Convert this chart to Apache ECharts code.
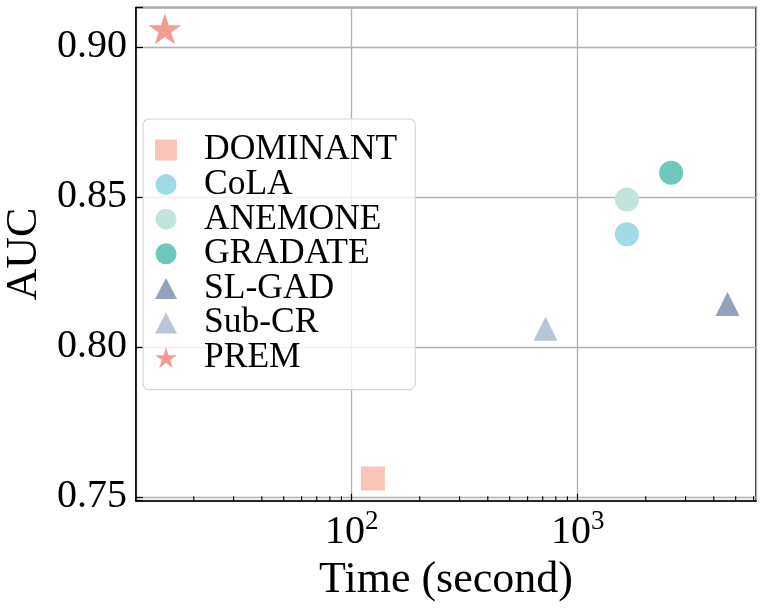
<!DOCTYPE html>
<html>
<head>
<meta charset="utf-8">
<script src="https://cdn.jsdelivr.net/npm/echarts@6/dist/echarts.min.js"></script>
<style>
  html, body { margin: 0; padding: 0; background: #fff; }
  #main { width: 764px; height: 613px; }
</style>
</head>
<body>
<div id="main"></div>
<script>
// values
var methods = ['DOMINANT', 'CoLA', 'ANEMONE', 'GRADATE', 'SL-GAD', 'Sub-CR', 'PREM'];
var timeSec = [124, 1650, 1650, 2590, 4600, 720, 14.9];
var aucVals = [0.7561, 0.8375, 0.8491, 0.8580, 0.8143, 0.8060, 0.9060];
var yTicks = [0.75, 0.80, 0.85, 0.90];
var xMinorTicks = [20, 30, 40, 50, 60, 70, 80, 90, 200, 300, 400, 500, 600, 700, 800, 900, 2000, 3000, 4000, 5000, 6000];

// marker look per method
var markers = {
  'DOMINANT': { symbol: 'rect', size: 24, color: '#f9c5b9' },
  'CoLA': { symbol: 'circle', size: 24, color: '#a0d9e8' },
  'ANEMONE': { symbol: 'circle', size: 24, color: '#c1e5dc' },
  'GRADATE': { symbol: 'circle', size: 24, color: '#6cc9bb' },
  'SL-GAD': { symbol: 'triangle', size: 24, color: '#93a3bd' },
  'Sub-CR': { symbol: 'triangle', size: 24, color: '#b8c5d7' },
  'PREM': { symbol: 'path://M0,-1L0.2245,-0.309L0.951,-0.309L0.3633,0.118L0.5878,0.809L0,0.382L-0.5878,0.809L-0.3633,0.118L-0.951,-0.309L-0.2245,-0.309Z', size: [33, 31], color: '#f49c8f' }
};

var X_MIN = 11.1, X_MAX = 6150;
var Y_MIN = 0.7487, Y_MAX = 0.9131;
var serif = 'Liberation Serif';

var chart = echarts.init(document.getElementById('main'), null, { renderer: 'canvas' });

var series = methods.map(function (name, i) {
  var m = markers[name];
  return {
    name: name,
    type: 'scatter',
    symbol: m.symbol,
    symbolSize: m.size,
    itemStyle: { color: m.color, opacity: 1 },
    z: 5,
    data: [[timeSec[i], aucVals[i]]]
  };
});

// minor ticks of the log axis, drawn inward from the bottom spine
series.push({
  type: 'custom',
  coordinateSystem: 'cartesian2d',
  silent: true,
  clip: false,
  z: 6,
  data: xMinorTicks.map(function (v) { return [v, Y_MIN]; }),
  renderItem: function (params, api) {
    var p = api.coord([api.value(0), api.value(1)]);
    return {
      type: 'line',
      shape: { x1: p[0], y1: p[1], x2: p[0], y2: p[1] - 4.5 },
      style: { stroke: '#000', lineWidth: 1.1 }
    };
  }
});

var option = {
  backgroundColor: '#ffffff',
  animation: false,
  textStyle: { fontFamily: serif },
  grid: {
    left: 136, top: 7.5, right: 8, bottom: 112.3,
    show: true, borderColor: '#000', borderWidth: 1.5,
    containLabel: false,
    outerBoundsMode: 'none'
  },
  legend: {
    orient: 'vertical',
    left: 143,
    top: 119,
    padding: [13, 18, 14, 12],
    itemWidth: 22,
    itemHeight: 21,
    itemGap: -1.4,
    borderColor: '#d6d6d6',
    borderWidth: 1.2,
    borderRadius: 6,
    backgroundColor: 'rgba(255,255,255,0.8)',
    data: methods,
    textStyle: {
      fontFamily: serif, fontSize: 35.5, color: '#000',
      lineHeight: 34, padding: [0, 0, 0, 22]
    }
  },
  xAxis: {
    type: 'log',
    logBase: 10,
    min: X_MIN,
    max: X_MAX,
    name: 'Time (second)',
    nameLocation: 'middle',
    nameGap: 58,
    nameTextStyle: { fontFamily: serif, fontSize: 44, color: '#000', lineHeight: 44 },
    axisLine: { show: true, lineStyle: { color: '#000', width: 1.5 } },
    axisTick: { show: true, inside: true, length: 7, lineStyle: { color: '#000', width: 1.2 } },
    splitLine: { show: true, lineStyle: { color: '#b0b0b0', width: 1.3 } },
    axisLabel: {
      margin: 8,
      showMinLabel: false,
      showMaxLabel: false,
      formatter: function (v) {
        var e = Math.round(Math.log10(v));
        if (Math.abs(Math.log10(v) - e) > 1e-6) return '';
        return '{b|10}{s|' + e + '}';
      },
      rich: {
        b: { fontFamily: serif, fontSize: 40, color: '#000', lineHeight: 44, verticalAlign: 'bottom' },
        s: { fontFamily: serif, fontSize: 27, color: '#000', lineHeight: 44, verticalAlign: 'top', padding: [0, 0, 14, 0] }
      }
    }
  },
  yAxis: {
    type: 'value',
    min: Y_MIN,
    max: Y_MAX,
    splitNumber: 3,
    name: 'AUC',
    nameLocation: 'middle',
    nameGap: 83,
    nameRotate: 90,
    nameTextStyle: { fontFamily: serif, fontSize: 44, color: '#000' },
    axisLine: { show: true, lineStyle: { color: '#000', width: 1.5 } },
    axisTick: { show: true, inside: true, length: 7, lineStyle: { color: '#000', width: 1.2 } },
    splitLine: { show: true, lineStyle: { color: '#b0b0b0', width: 1.3 } },
    axisLabel: {
      margin: 9,
      fontFamily: serif,
      fontSize: 40,
      color: '#000',
      formatter: function (v) {
        for (var i = 0; i < yTicks.length; i++) {
          if (Math.abs(v - yTicks[i]) < 1e-6) return yTicks[i].toFixed(2);
        }
        return '';
      }
    }
  },
  series: series
};

chart.setOption(option);
</script>
</body>
</html>
